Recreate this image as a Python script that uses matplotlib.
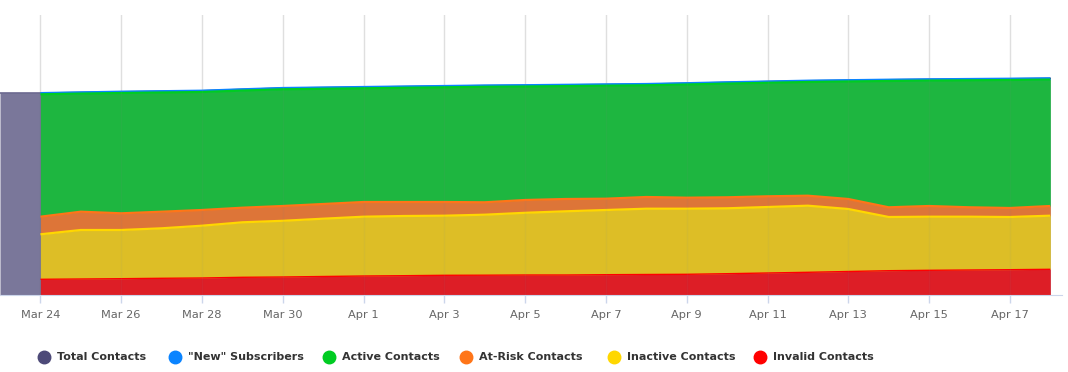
import numpy as np
import pandas as pd
import matplotlib
matplotlib.use("Agg")
import matplotlib.pyplot as plt
import matplotlib.dates as mdates
from matplotlib.lines import Line2D

# daily values, Mar 24 .. Apr 18
stack_dates = pd.date_range("2019-03-24", "2019-04-18", freq="D")
total_dates = pd.date_range("2019-03-23", "2019-04-18", freq="D")

total = [2020, 2020, 2027, 2033, 2038, 2043, 2057, 2070, 2075, 2080, 2085, 2090, 2095, 2098,
         2102, 2106, 2110, 2118, 2127, 2135, 2143, 2148, 2153, 2157, 2160, 2163, 2167]
new_subs = [12, 12, 13, 13, 13, 13, 13, 13, 13, 13, 13, 13, 13,
            13, 13, 13, 13, 13, 13, 13, 13, 13, 13, 13, 13, 13]
active = [1224, 1181, 1203, 1192, 1180, 1171, 1167, 1152, 1137, 1142, 1147, 1155, 1135,
          1129, 1130, 1117, 1132, 1137, 1135, 1137, 1175, 1263, 1254, 1270, 1280, 1264]
at_risk = [176, 183, 167, 166, 157, 146, 148, 147, 147, 140, 137, 124, 128,
           123, 113, 117, 110, 110, 107, 100, 100, 97, 107, 94, 90, 97]
inactive = [450, 490, 487, 500, 523, 550, 562, 578, 593, 597, 596, 605, 622,
            637, 647, 658, 656, 654, 660, 666, 625, 537, 536, 533, 527, 536]
invalid = [157, 160, 163, 167, 170, 177, 180, 185, 190, 193, 197, 198, 200,
           200, 203, 205, 207, 213, 220, 227, 235, 243, 247, 250, 253, 257]

names = ["Total Contacts", '"New" Subscribers', "Active Contacts",
         "At-Risk Contacts", "Inactive Contacts", "Invalid Contacts"]
colors = ["#4d4a78", "#0a84ff", "#00cc22", "#ff7518", "#ffd700", "#ff0000"]

fig = plt.figure(figsize=(10.68, 3.72), dpi=100)
ax = fig.add_axes([0, 77 / 372, 1062 / 1068, 280 / 372])

# total contacts sits behind the stack
ax.fill_between(total_dates, 0, total, color=colors[0], alpha=0.75, lw=0, zorder=1)
ax.plot(total_dates, total, color=colors[0], lw=1, zorder=2)

# stacked from bottom: invalid, inactive, at-risk, active, new
series = [invalid, inactive, at_risk, active, new_subs]
scol = [colors[5], colors[4], colors[3], colors[2], colors[1]]
base = np.zeros(len(stack_dates))
tops = []
for vals, c in zip(series, scol):
    top = base + np.array(vals)
    ax.fill_between(stack_dates, base, top, color=c, alpha=0.75, lw=0, zorder=3)
    tops.append((top, c))
    base = top
for j, (top, c) in enumerate(reversed(tops)):
    w = 1.0 if c == colors[5] else 1.6
    ax.plot(stack_dates, top, color=c, lw=w, zorder=4 + j, solid_capstyle="butt")

ax.set_ylim(0, 2800)
ax.set_xlim(mdates.date2num(pd.Timestamp("2019-03-23")),
            mdates.date2num(pd.Timestamp("2019-03-23")) + 26.29)

ticks = pd.date_range("2019-03-24", "2019-04-17", freq="2D")
ax.set_xticks(ticks)
ax.xaxis.set_major_formatter(mdates.DateFormatter("%b %-d"))
ax.tick_params(axis="x", length=6, width=1, color="#ccd6eb", labelsize=8.2,
               labelcolor="#666666", pad=5)
ax.set_yticks([])
ax.grid(axis="x", color="#e6e6e6", lw=1, zorder=0)
ax.set_axisbelow(True)
# faint grid showing through the areas
for t in ticks:
    ax.axvline(t, color="#999999", lw=1, alpha=0.08, zorder=12)
for s in ["top", "left", "right"]:
    ax.spines[s].set_visible(False)
ax.spines["bottom"].set_color("#ccd6eb")
ax.spines["bottom"].set_zorder(10)

# legend
leg_circle_x = [44, 175, 329, 466, 614, 760]
leg_y = 1 - 357 / 372
for name, c, cx in zip(names, colors, leg_circle_x):
    fig.add_artist(Line2D([cx / 1068], [leg_y], marker="o", markersize=9,
                          color=c, lw=0, transform=fig.transFigure))
    fig.text((cx + 13) / 1068, leg_y, name, fontsize=8.0, fontweight="bold",
             color="#333333", va="center", ha="left")

fig.savefig("out.png", dpi=100)
